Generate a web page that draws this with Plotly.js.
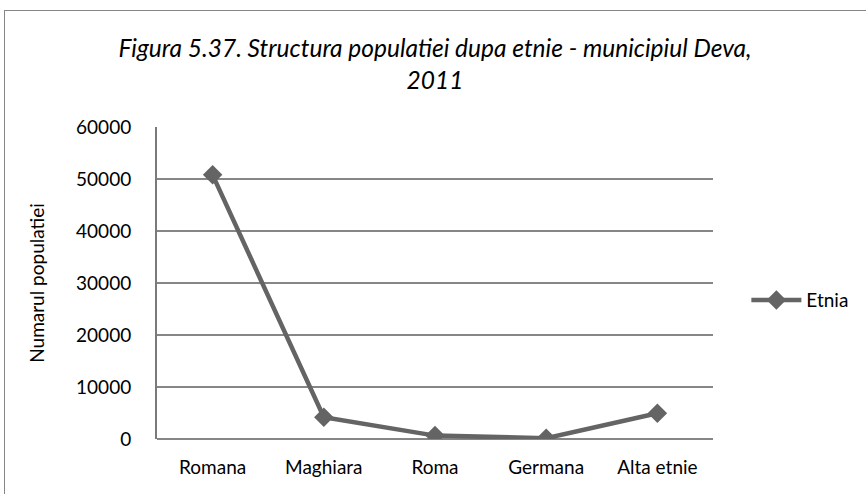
<!DOCTYPE html>
<html><head><meta charset="utf-8">
<script src="https://cdn.plot.ly/plotly-3.0.1.min.js"></script>
<style>
html,body{margin:0;padding:0;background:#fff;width:866px;height:494px;overflow:hidden;}
#chart{position:absolute;left:0;top:0;width:866px;height:494px;}
#frame{position:absolute;left:4px;top:10px;width:870px;height:500px;border-left:1.5px solid #868686;border-top:1.5px solid #868686;pointer-events:none;}
</style></head>
<body>
<div id="chart"></div>
<div id="frame"></div>
<script>
const categories = ["Romana", "Maghiara", "Roma", "Germana", "Alta etnie"];
const values = [50800, 4200, 650, 150, 4950];
const seriesName = "Etnia";
const yTicks = [0, 10000, 20000, 30000, 40000, 50000, 60000];

const font = "Lato, 'Open Sans', sans-serif";
const trace = {
  x: categories, y: values, name: seriesName, type: 'scatter', mode: 'lines+markers',
  line: {color: '#646464', width: 4.5},
  marker: {symbol: 'diamond', size: 15, color: '#646464'}
};
const layout = {
  width: 866, height: 494,
  margin: {l: 157, r: 153, t: 127, b: 55},
  paper_bgcolor: '#fff', plot_bgcolor: '#fff',
  font: {family: font, color: '#000', size: 19},
  title: {text: '<i>Figura 5.37. Structura populatiei dupa etnie - municipiul Deva,<br>2011</i>',
    font: {family: font, size: 24.5, color: '#000'}, x: 0.5, xanchor: 'center', xref: 'paper',
    y: 1 - 57/494, yanchor: 'middle', yref: 'container'},
  xaxis: {type: 'category', range: [-0.5, categories.length - 0.5], showgrid: false, zeroline: false,
    showline: false, ticks: '', ticklabelstandoff: 15, tickfont: {size: 19, family: font}, fixedrange: true},
  yaxis: {range: [0, 60000], tickvals: yTicks, ticktext: yTicks.map(String), showgrid: true,
    gridcolor: '#868686', gridwidth: 1.3, zeroline: true, zerolinecolor: '#868686', zerolinewidth: 1.5,
    showline: true, linecolor: '#7a7a7a', linewidth: 2, ticks: '', ticklabelstandoff: 20,
    tickfont: {size: 19, family: font},
    title: {text: 'Numarul populatiei', font: {size: 19, family: font}, standoff: 26}},
  showlegend: true,
  legend: {x: 1.06, xanchor: 'left', y: 0.445, yanchor: 'middle', font: {size: 19, family: font},
    itemwidth: 50, bgcolor: 'rgba(0,0,0,0)'}
};
Plotly.newPlot('chart', [trace], layout, {displayModeBar: false, staticPlot: true});
</script>
</body></html>
